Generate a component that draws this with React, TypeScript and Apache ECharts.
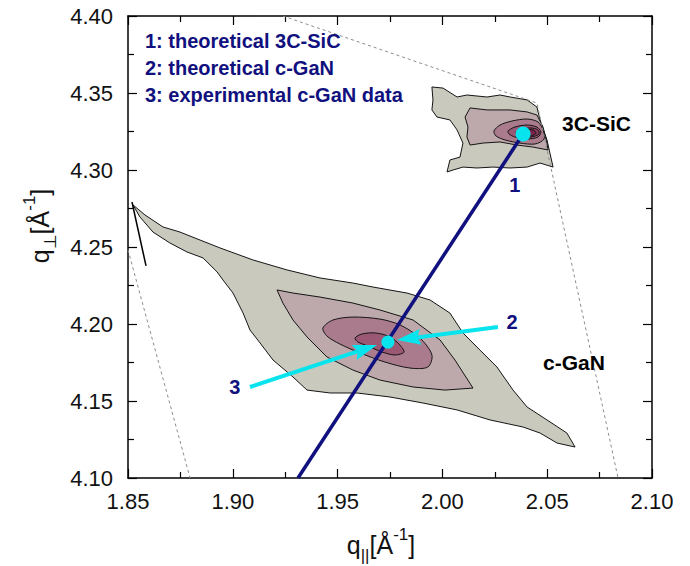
import React, { useEffect, useRef } from 'react';
import * as echarts from 'echarts';

// ---- axes ----
const X_MIN = 1.85;
const X_MAX = 2.1;
const Y_MIN = 4.1;
const Y_MAX = 4.4;
const TICK_STEP = 0.05;

// ---- contour polygons [q_par, q_perp] ----
const ganLevel1 = [
  [1.8524, 4.2773], [1.8581, 4.2708], [1.8667, 4.263], [1.8748, 4.2597], [1.8844, 4.2545],
  [1.8939, 4.2494], [1.9096, 4.2416], [1.9259, 4.2351], [1.9416, 4.2299], [1.9573, 4.2266],
  [1.9669, 4.224], [1.9831, 4.2201], [1.9941, 4.2156], [2.0036, 4.2071], [2.0098, 4.1942],
  [2.0179, 4.1831], [2.026, 4.1721], [2.0337, 4.1571], [2.0404, 4.1461], [2.0499, 4.1377],
  [2.0594, 4.1292], [2.0633, 4.1201], [2.0547, 4.1227], [2.0466, 4.1292], [2.0385, 4.1331],
  [2.0227, 4.1377], [2.007, 4.1442], [1.9907, 4.1487], [1.975, 4.1526], [1.9593, 4.1552],
  [1.9464, 4.1552], [1.9354, 4.1571], [1.9287, 4.1656], [1.9192, 4.1766], [1.913, 4.1877],
  [1.9082, 4.1961], [1.9049, 4.2071], [1.9001, 4.2201], [1.8953, 4.2286], [1.8925, 4.2338],
  [1.8858, 4.2429], [1.8781, 4.2468], [1.87, 4.2526], [1.8619, 4.2597], [1.8557, 4.2695],
];
const ganLevel2 = [
  [1.9211, 4.2221], [1.9287, 4.2201], [1.9416, 4.2175], [1.9573, 4.2136], [1.9702, 4.2091],
  [1.986, 4.2026], [1.9989, 4.1896], [2.006, 4.1766], [2.0146, 4.1584], [2.0012, 4.1571],
  [1.986, 4.1591], [1.9702, 4.1636], [1.9573, 4.1701], [1.9449, 4.1786], [1.9354, 4.1916],
  [1.9287, 4.2026], [1.9239, 4.2136],
];
const ganLevel3 = [
  [1.943, 4.1974], [1.9478, 4.2026], [1.9573, 4.2045], [1.9702, 4.2032], [1.9798, 4.1994],
  [1.9893, 4.1909], [1.995, 4.1799], [1.9931, 4.1721], [1.9845, 4.1714], [1.9726, 4.1753],
  [1.9607, 4.1812], [1.9511, 4.187], [1.9449, 4.1922],
];
const ganLevel4 = [
  [1.9583, 4.1909], [1.9616, 4.1935], [1.9678, 4.1942], [1.974, 4.1922], [1.9788, 4.1877],
  [1.9817, 4.1818], [1.9774, 4.1799], [1.9712, 4.1818], [1.9645, 4.1857], [1.9597, 4.1883],
];
const sicLevel1 = [
  [1.995, 4.3539], [2.0003, 4.3532], [2.007, 4.3474], [2.0117, 4.3487], [2.0213, 4.3474],
  [2.0275, 4.3487], [2.0323, 4.3474], [2.0404, 4.3455], [2.0451, 4.3409], [2.0466, 4.3325],
  [2.0499, 4.3195], [2.0513, 4.311], [2.0528, 4.3019], [2.0466, 4.3045], [2.0404, 4.3019],
  [2.0323, 4.3013], [2.0241, 4.3019], [2.0165, 4.3013], [2.0098, 4.3019], [2.0051, 4.3],
  [2.0022, 4.2987], [2.0036, 4.3065], [2.0084, 4.3084], [2.0098, 4.3175], [2.007, 4.326],
  [2.0036, 4.3325], [1.9974, 4.3344], [1.995, 4.339], [1.9955, 4.3455],
];
const sicLevel2 = [
  [2.0132, 4.3403], [2.0213, 4.339], [2.0323, 4.339], [2.0404, 4.3377], [2.0451, 4.3357],
  [2.048, 4.3279], [2.0499, 4.3175], [2.0504, 4.313], [2.0432, 4.3149], [2.0356, 4.3162],
  [2.0275, 4.3182], [2.0194, 4.3175], [2.0132, 4.3162], [2.0117, 4.3214], [2.0122, 4.3279],
  [2.0108, 4.3344],
];
const sicLevel3 = [
  [2.0246, 4.3253], [2.0275, 4.3292], [2.0332, 4.3318], [2.0404, 4.3331], [2.0456, 4.3312],
  [2.048, 4.326], [2.0485, 4.3201], [2.0442, 4.3169], [2.037, 4.3175], [2.0299, 4.3195],
  [2.0256, 4.3221],
];
const sicLevel4 = [
  [2.0313, 4.3253], [2.0346, 4.3279], [2.0404, 4.3292], [2.0451, 4.3279], [2.047, 4.3247],
  [2.0456, 4.3214], [2.0404, 4.3201], [2.0346, 4.3214], [2.0318, 4.3234],
];
const sicLevel5 = [
  [2.0351, 4.3247], [2.038, 4.3266], [2.0423, 4.3273], [2.0456, 4.326], [2.0461, 4.3234],
  [2.0423, 4.3214], [2.038, 4.3221], [2.0356, 4.3234],
];
const sicLevel6 = [
  [2.0365, 4.324], [2.0394, 4.326], [2.0432, 4.326], [2.0447, 4.324], [2.0423, 4.3221],
  [2.0385, 4.3227],
];

const levelColors = ['#c9c9bd', '#bda8ac', '#a97b8d', '#9a5874', '#8b3d5f', '#7a2449'];

// ---- peaks, lines, arrows ----
const sicPeak = [2.0385, 4.3234];
const ganPeak = [1.974, 4.1883];
const relaxationLine = [[1.9311, 4.1], [2.0385, 4.3234]];
const arrows = [
  [[2.0265, 4.1981], [1.9783, 4.1896]],
  [[1.9082, 4.1591], [1.9688, 4.1864]],
];
const boundaryUpper = [[1.9239, 4.4], [2.0451, 4.3435], [2.0838, 4.1]];
const boundaryLeft = [[1.85, 4.2481], [1.8796, 4.1]];
const scanLine = [[1.8519, 4.2792], [1.8586, 4.2377]];
const numberLabels = [
  { text: '1', pos: [2.0346, 4.2903] },
  { text: '2', pos: [2.0332, 4.2013] },
  { text: '3', pos: [1.901, 4.1591] },
];
const peakNames = [
  { text: '3C-SiC', pos: [2.0571, 4.3299] },
  { text: 'c-GaN', pos: [2.048, 4.1747] },
];
const legendLines = ['1: theoretical 3C-SiC', '2: theoretical c-GaN', '3: experimental c-GaN data'];

const FONT = '"Liberation Sans", Arial, Helvetica, sans-serif';
const NAVY = '#10107e';
const CYAN = '#08e4ee';

const contourList = [
  { points: ganLevel1, level: 0, smooth: 0 },
  { points: ganLevel2, level: 1, smooth: 0 },
  { points: ganLevel3, level: 2, smooth: 0.3 },
  { points: ganLevel4, level: 3, smooth: 0.3 },
  { points: sicLevel1, level: 0, smooth: 0 },
  { points: sicLevel2, level: 1, smooth: 0 },
  { points: sicLevel3, level: 2, smooth: 0.3 },
  { points: sicLevel4, level: 3, smooth: 0.3 },
  { points: sicLevel5, level: 4, smooth: 0.3 },
  { points: sicLevel6, level: 5, smooth: 0.3 },
];

function axisBase(min: number, max: number) {
  return {
    type: 'value',
    min,
    max,
    interval: TICK_STEP,
    axisLine: { show: true, onZero: false, lineStyle: { color: '#000', width: 1.5 } },
    axisTick: { show: true, inside: true, length: 9, lineStyle: { color: '#000', width: 1.2 } },
    minorTick: { show: true, splitNumber: 2, length: 6, lineStyle: { color: '#000', width: 1.2 } },
    splitLine: { show: false },
    minorSplitLine: { show: false },
  };
}

const nameRich = {
  b: { fontSize: 25, lineHeight: 38, fontFamily: FONT, color: '#111' },
  sub: { fontSize: 17, lineHeight: 17, verticalAlign: 'bottom', fontFamily: FONT, color: '#111' },
  sup: { fontSize: 17, lineHeight: 17, verticalAlign: 'top', fontFamily: FONT, color: '#111' },
};

const labelStyle = {
  fontSize: 22,
  fontFamily: FONT,
  color: '#111',
  formatter: (v: number) => v.toFixed(2),
};

export default function App() {
  const ref = useRef<HTMLDivElement>(null);
  useEffect(() => {
    if (!ref.current) return;
    const chart = echarts.init(ref.current, null, { renderer: 'svg' });
    const option: any = {
      animation: false,
      backgroundColor: '#fff',
      grid: { left: 128, right: 38, top: 16, bottom: 88, containLabel: false, outerBoundsMode: 'none' },
      xAxis: [
        {
          ...axisBase(X_MIN, X_MAX),
          position: 'bottom',
          axisLabel: { ...labelStyle, margin: 12 },
          name: '{b|q}{sub|||}{b|[Å}{sup|-1}{b|]}',
          nameLocation: 'middle',
          nameGap: 48,
          nameTextStyle: { fontFamily: FONT, rich: nameRich, padding: [0, 18, 0, 0] },
        },
        { ...axisBase(X_MIN, X_MAX), position: 'top', axisLabel: { show: false } },
      ],
      yAxis: [
        {
          ...axisBase(Y_MIN, Y_MAX),
          position: 'left',
          axisLabel: { ...labelStyle, margin: 15 },
          name: '{b|q}{sub|⊥}{b|[Å}{sup|-1}{b|]}',
          nameLocation: 'middle',
          nameRotate: 90,
          nameGap: 68,
          nameTextStyle: { fontFamily: FONT, rich: nameRich, padding: [0, 0, 0, 42] },
        },
        { ...axisBase(Y_MIN, Y_MAX), position: 'right', axisLabel: { show: false } },
      ],
      graphic: legendLines.map((t, i) => ({
        type: 'text',
        x: 145,
        y: 41 + i * 27,
        z: 10,
        style: { text: t, font: `bold 20px ${FONT}`, fill: NAVY, align: 'left', verticalAlign: 'middle' },
      })),
      series: [
        {
          type: 'custom',
          coordinateSystem: 'cartesian2d',
          silent: true,
          z: 1,
          data: contourList.map((c, i) => [c.points[0][0], c.points[0][1], i]),
          encode: { x: 0, y: 1 },
          renderItem: (params: any, api: any) => {
            const c = contourList[params.dataIndex];
            return {
              type: 'polygon',
              shape: { points: c.points.map((p) => api.coord(p)), smooth: c.smooth },
              style: { fill: levelColors[c.level], stroke: '#151515', lineWidth: 1 },
            };
          },
        },
        {
          type: 'line',
          data: boundaryUpper,
          symbol: 'none',
          z: 2,
          silent: true,
          lineStyle: { color: '#8c8c8c', width: 1, type: [3, 3] },
        },
        {
          type: 'line',
          data: boundaryLeft,
          symbol: 'none',
          z: 2,
          silent: true,
          lineStyle: { color: '#8c8c8c', width: 1, type: [3, 3] },
        },
        {
          type: 'line',
          data: scanLine,
          symbol: 'none',
          z: 2,
          silent: true,
          lineStyle: { color: '#000', width: 1.5 },
        },
        {
          type: 'line',
          data: relaxationLine,
          symbol: 'none',
          z: 3,
          silent: true,
          lineStyle: { color: NAVY, width: 3.5 },
        },
        {
          type: 'custom',
          coordinateSystem: 'cartesian2d',
          silent: true,
          z: 4,
          data: arrows.map((a, i) => [a[1][0], a[1][1], i]),
          encode: { x: 0, y: 1 },
          renderItem: (params: any, api: any) => {
            const a = arrows[params.dataIndex];
            const p0 = api.coord(a[0]);
            const p1 = api.coord(a[1]);
            const dx = p1[0] - p0[0];
            const dy = p1[1] - p0[1];
            const L = Math.hypot(dx, dy);
            const ux = dx / L;
            const uy = dy / L;
            const nx = -uy;
            const ny = ux;
            const headLen = 24;
            const headW = 8;
            const bx = p1[0] - ux * headLen;
            const by = p1[1] - uy * headLen;
            const notchX = p1[0] - ux * headLen * 0.85;
            const notchY = p1[1] - uy * headLen * 0.85;
            return {
              type: 'group',
              children: [
                {
                  type: 'line',
                  shape: { x1: p0[0], y1: p0[1], x2: notchX, y2: notchY },
                  style: { stroke: CYAN, lineWidth: 4 },
                },
                {
                  type: 'polygon',
                  shape: {
                    points: [
                      [p1[0], p1[1]],
                      [bx + nx * headW, by + ny * headW],
                      [notchX, notchY],
                      [bx - nx * headW, by - ny * headW],
                    ],
                  },
                  style: { fill: CYAN },
                },
              ],
            };
          },
        },
        {
          type: 'scatter',
          data: [sicPeak],
          symbol: 'circle',
          symbolSize: 15,
          z: 5,
          silent: true,
          itemStyle: { color: CYAN, opacity: 1 },
        },
        {
          type: 'scatter',
          data: [ganPeak],
          symbol: 'circle',
          symbolSize: 13,
          z: 5,
          silent: true,
          itemStyle: { color: CYAN, opacity: 1 },
        },
        {
          type: 'custom',
          coordinateSystem: 'cartesian2d',
          silent: true,
          z: 6,
          data: numberLabels.map((l, i) => [l.pos[0], l.pos[1], i]),
          encode: { x: 0, y: 1 },
          renderItem: (params: any, api: any) => {
            const l = numberLabels[params.dataIndex];
            const p = api.coord(l.pos);
            return {
              type: 'text',
              x: p[0],
              y: p[1],
              style: { text: l.text, font: `bold 20px ${FONT}`, fill: NAVY, align: 'center', verticalAlign: 'middle' },
            };
          },
        },
        {
          type: 'custom',
          coordinateSystem: 'cartesian2d',
          silent: true,
          z: 6,
          data: peakNames.map((l, i) => [l.pos[0], l.pos[1], i]),
          encode: { x: 0, y: 1 },
          renderItem: (params: any, api: any) => {
            const l = peakNames[params.dataIndex];
            const p = api.coord(l.pos);
            return {
              type: 'text',
              x: p[0],
              y: p[1],
              style: { text: l.text, font: `bold 21px ${FONT}`, fill: '#000', align: 'left', verticalAlign: 'middle' },
            };
          },
        },
      ],
    };
    chart.setOption(option);
    return () => chart.dispose();
  }, []);
  return (
    <div
      ref={ref}
      style={{ position: 'fixed', left: 0, top: 0, width: 690, height: 566, background: '#fff' }}
    />
  );
}
